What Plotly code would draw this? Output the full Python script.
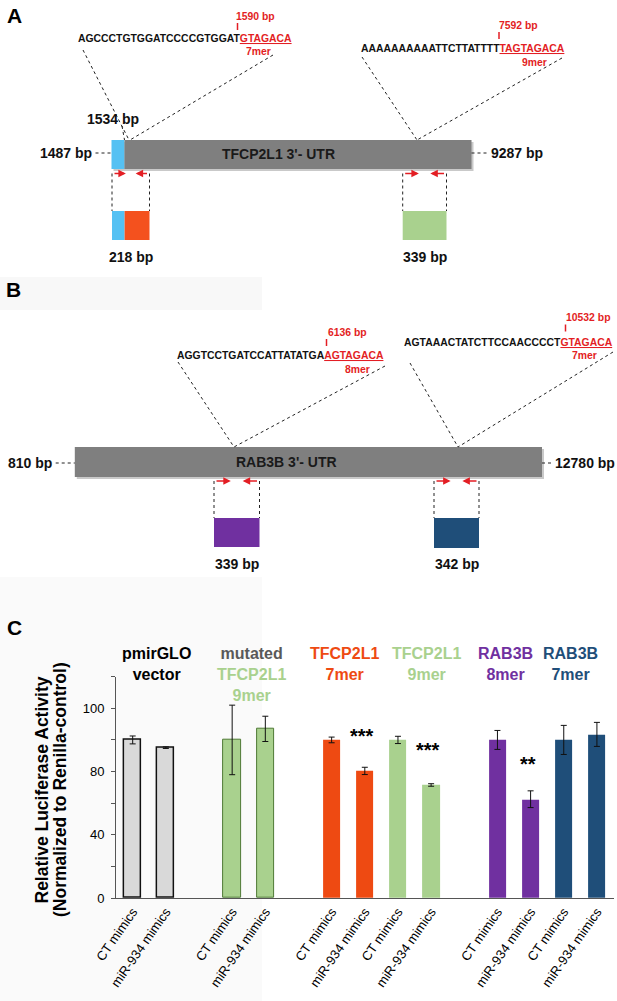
import plotly.graph_objects as go

# ---------------- DATA ----------------
# Panel A : TFCP2L1 3'-UTR
utr_a_name = "TFCP2L1 3'- UTR"
utr_a_start, utr_a_junction, utr_a_end = "1487 bp", "1534 bp", "9287 bp"
seq_a_black = ["AGCCCTGTGGATCCCCGTGGAT", "AAAAAAAAAATTCTTATTTT"]
seq_a_red = ["GTAGACA", "TAGTAGACA"]
site_a_bp = ["1590 bp", "7592 bp"]
site_a_type = ["7mer", "9mer"]
frag_a_size = ["218 bp", "339 bp"]

# Panel B : RAB3B 3'-UTR
utr_b_name = "RAB3B 3'- UTR"
utr_b_start, utr_b_end = "810 bp", "12780 bp"
seq_b_black = ["AGGTCCTGATCCATTATATGA", "AGTAAACTATCTTCCAACCCCT"]
seq_b_red = ["AGTAGACA", "GTAGACA"]
site_b_bp = ["6136 bp", "10532 bp"]
site_b_type = ["8mer", "7mer"]
frag_b_size = ["339 bp", "342 bp"]

# Panel C : luciferase assay
group_lines = [["pmirGLO", "vector"], ["mutated", "TFCP2L1", "9mer"], ["TFCP2L1", "7mer"],
               ["TFCP2L1", "9mer"], ["RAB3B", "8mer"], ["RAB3B", "7mer"]]
conditions = ["CT mimics", "miR-934 mimics"]
values = [100, 95.1, 100, 107, 100, 80.4, 100, 71.5, 100, 62.5, 100, 103.5]
errors = [2.5, 0.5, 22, 8, 1.8, 2.3, 2.3, 0.8, 6, 5.3, 9.2, 7.6]
significance = ["", "", "", "", "", "***", "", "***", "", "**", "", ""]
y_tickvals = [0, 20, 40, 60, 80, 100, 120, 140]
y_ticktext = ["0", "", "40", "", "80", "", "100", ""]

# ---------------- STYLE / LAYOUT ----------------
W, H = 617, 1001
RED = "#e31e24"
ARIAL = "Liberation Sans, Arial, sans-serif"
NARROW = ARIAL
BLUE_L, ORANGE, GREEN_L, PURPLE, NAVY, GRAY_BAR = "#55c1f3", "#f4511e", "#a9d18e", "#7030a0", "#1f4e79", "#7f7f7f"
BIG = 14      # condensed 17px labels approximated with regular face
SMALL = 10.4  # condensed 12px labels

group_fill = ["#d9d9d9", GREEN_L, "#ee4a12", GREEN_L, PURPLE, NAVY]
group_line = ["#111111", "#4f7a35", "#ee4a12", GREEN_L, PURPLE, NAVY]
group_line_w = [1.5, 1, 0, 0, 0, 0]
header_colors = [["#000000", "#000000"], ["#595959", GREEN_L, GREEN_L], ["#ee4a12", "#ee4a12"],
                 [GREEN_L, GREEN_L], [PURPLE, PURPLE], [NAVY, NAVY]]
header_dx = [7.6, 2.3, -4, 11.7, -9, -9.5]   # px shift of each header from its bar pair
gap_after_group = [1, 1, 0, 1, 0]


def px(x):
    return x / W


def py(y):
    return 1 - y / H


shapes, annots = [], []


def rect(x0, y0, x1, y1, color, line=None):
    shapes.append(dict(type="rect", xref="paper", yref="paper", x0=px(x0), x1=px(x1), y0=py(y0), y1=py(y1),
                       fillcolor=color, line=dict(width=0) if line is None else line, layer="below"))


def dline(x0, y0, x1, y1, color="#222222", dash="dot", width=1):
    shapes.append(dict(type="line", xref="paper", yref="paper", x0=px(x0), x1=px(x1), y0=py(y0), y1=py(y1),
                       line=dict(color=color, width=width, dash=dash)))


def text(x, y, s, size=BIG, color="#111111", xanchor="center", family=NARROW, bold=True, angle=0):
    annots.append(dict(xref="paper", yref="paper", x=px(x), y=py(y), text=("<b>%s</b>" % s) if bold else s,
                       showarrow=False, xanchor=xanchor, yanchor="middle", textangle=angle,
                       font=dict(size=size, color=color, family=family)))


def arrow(xh, y, xt):
    annots.append(dict(xref="paper", yref="paper", x=px(xh), y=py(y), text="", showarrow=True,
                       ax=xt - xh, ay=0, arrowhead=2, arrowsize=1, arrowwidth=1.5, arrowcolor=RED))


# very light gray background patches
rect(0, 277, 262, 310, "#f8f8f8")
rect(0, 577, 262, 1001, "#fafafa")

# panel letters
text(14.5, 15, "A", size=21, color="#000000", family=ARIAL)
text(13, 290, "B", size=21, color="#000000", family=ARIAL)
text(14.5, 627, "C", size=21, color="#000000", family=ARIAL)


def sequence(x, y, black, red, bp, bpx, bpy, tickx, mer, merx, mery):
    text(x, y, black + "<span style='color:%s'><u>%s</u></span>" % (RED, red), size=SMALL, xanchor="left")
    text(bpx, bpy, bp, size=SMALL, color=RED, xanchor="left")
    dline(tickx, bpy + 7, tickx, bpy + 14, color=RED, dash="solid", width=1.5)
    text(merx, mery, mer, size=SMALL, color=RED, xanchor="left")


def primers(xl, xr, ytop, ybox, yboxb, colors, split, label, ylab):
    dline(xl, ytop, xl, ybox)
    dline(xr, ytop, xr, ybox)
    arrow(xl + 0.37 * (xr - xl), ytop, xl + 1)
    arrow(xr - 0.37 * (xr - xl), ytop, xr - 1)
    if split is None:
        rect(xl, ybox, xr, yboxb, colors[0])
    else:
        rect(xl, ybox, split, yboxb, colors[0])
        rect(split, ybox, xr, yboxb, colors[1])
    text((xl + xr) / 2, ylab, label)


# ---- Panel A ----
sequence(76, 38.5, seq_a_black[0], seq_a_red[0], site_a_bp[0], 234, 16, 237.5, site_a_type[0], 244, 51)
sequence(359, 48, seq_a_black[1], seq_a_red[1], site_a_bp[1], 497, 25, 499, site_a_type[1], 520, 62)
dline(83, 50, 129, 140)
dline(273, 55, 130, 140)
dline(362, 57, 417, 140)
dline(562, 58, 417, 140)
rect(113.5, 142, 473.5, 171, "#c9c9c9")  # shadow
rect(111.5, 140, 124.5, 169, BLUE_L)
rect(124.5, 140, 471.5, 169, GRAY_BAR)
text(278.5, 154, utr_a_name, color="#1a1a1a")
text(94, 153, utr_a_start, xanchor="right")
dline(95.5, 153, 111.5, 153)
text(489, 153, utr_a_end, xanchor="left")
dline(471.5, 153, 488, 153)
text(113, 119, utr_a_junction)
dline(122, 126, 124.5, 140)
primers(112, 149.5, 173.5, 211, 240, [BLUE_L, ORANGE], 124.6, frag_a_size[0], 257)
primers(402.7, 446.5, 173.5, 211, 240, [GREEN_L], None, frag_a_size[1], 257)

# ---- Panel B ----
sequence(175, 355, seq_b_black[0], seq_b_red[0], site_b_bp[0], 326, 332, 326.5, site_b_type[0], 343, 369.5)
sequence(402, 342, seq_b_black[1], seq_b_red[1], site_b_bp[1], 564, 317.5, 565.5, site_b_type[1], 570, 356)
dline(178, 362, 234, 447)
dline(385, 366, 234, 447)
dline(410, 363, 458, 447)
dline(613, 352, 458, 447)
rect(76.8, 449, 544, 479, "#c9c9c9")
rect(74.8, 447, 542, 477, GRAY_BAR)
text(286.5, 462, utr_b_name, color="#1a1a1a")
text(54, 463, utr_b_start, xanchor="right")
dline(55.7, 463, 74.8, 463)
text(553, 463, utr_b_end, xanchor="left")
dline(542, 463, 552, 463)
primers(214, 259.5, 481, 518, 547, [PURPLE], None, frag_b_size[0], 564)
primers(434, 479, 481, 518, 548, [NAVY], None, frag_b_size[1], 564)

# ---------------- Panel C bar chart ----------------
xpos, xlab, fills, lines, lws = [], [], [], [], []
slot = 0
for g in range(len(group_lines)):
    for c in conditions:
        xpos.append(slot)
        xlab.append(c)
        fills.append(group_fill[g])
        lines.append(group_line[g])
        lws.append(group_line_w[g])
        slot += 1
    if g < len(gap_after_group):
        slot += gap_after_group[g]

fig = go.Figure()
fig.add_trace(go.Bar(
    x=xpos, y=values, width=0.52,
    marker=dict(color=fills, line=dict(color=lines, width=lws)),
    error_y=dict(type="data", array=errors, visible=True, color="#111111", thickness=1, width=3),
    xaxis="x", yaxis="y", showlegend=False, hoverinfo="skip",
))

# group headers
for g, lines_g in enumerate(group_lines):
    xc = (xpos[2 * g] + xpos[2 * g + 1]) / 2
    txt = "<br>".join("<span style='color:%s'><b>%s</b></span>" % (header_colors[g][i], l)
                      for i, l in enumerate(lines_g))
    annots.append(dict(xref="x", yref="paper", x=xc, y=py(643), text=txt, showarrow=False,
                       xanchor="center", yanchor="top", xshift=header_dx[g],
                       font=dict(size=16, family=ARIAL)))

# significance stars
for i, s in enumerate(significance):
    if s:
        annots.append(dict(xref="x", yref="y", x=xpos[i], y=values[i] + 22, text="<b>%s</b>" % s,
                           showarrow=False, xanchor="center", yanchor="middle", xshift=-3,
                           font=dict(size=20, color="#000000", family=ARIAL)))

# y-axis title (two lines)
text(41.5, 790, "Relative Luciferase Activity", size=17.5, color="#000000", family=ARIAL, angle=-90)
text(60, 790, "(Normalized to Renilla-control)", size=17.5, color="#000000", family=ARIAL, angle=-90)

fig.update_layout(
    width=W, height=H, autosize=False, margin=dict(l=0, r=0, t=0, b=0, pad=0),
    paper_bgcolor="white", plot_bgcolor="rgba(0,0,0,0)",
    shapes=shapes, annotations=annots, bargap=0, showlegend=False,
    xaxis=dict(domain=[px(116.1), px(613.5)], range=[-0.5, 14.5], tickmode="array", automargin=False,
               tickvals=xpos, ticktext=xlab, tickangle=-55, showline=True, linecolor="#555555",
               linewidth=1, ticks="", showgrid=False, zeroline=False,
               tickfont=dict(size=13, color="#000000", family=ARIAL)),
    yaxis=dict(domain=[py(898), py(676.7)], range=[0, 140], tickmode="array", tickvals=y_tickvals,
               ticktext=y_ticktext, showline=True, linecolor="#555555", linewidth=1, automargin=False,
               ticks="outside", ticklen=4, tickcolor="#555555", showgrid=False, zeroline=False,
               tickprefix="<b>", ticksuffix="</b>",
               tickfont=dict(size=13, color="#000000", family=ARIAL), ticklabelstandoff=4),
)

fig.write_html("out.html", config={"displayModeBar": False},
               post_script="document.body.style.margin='0';")
